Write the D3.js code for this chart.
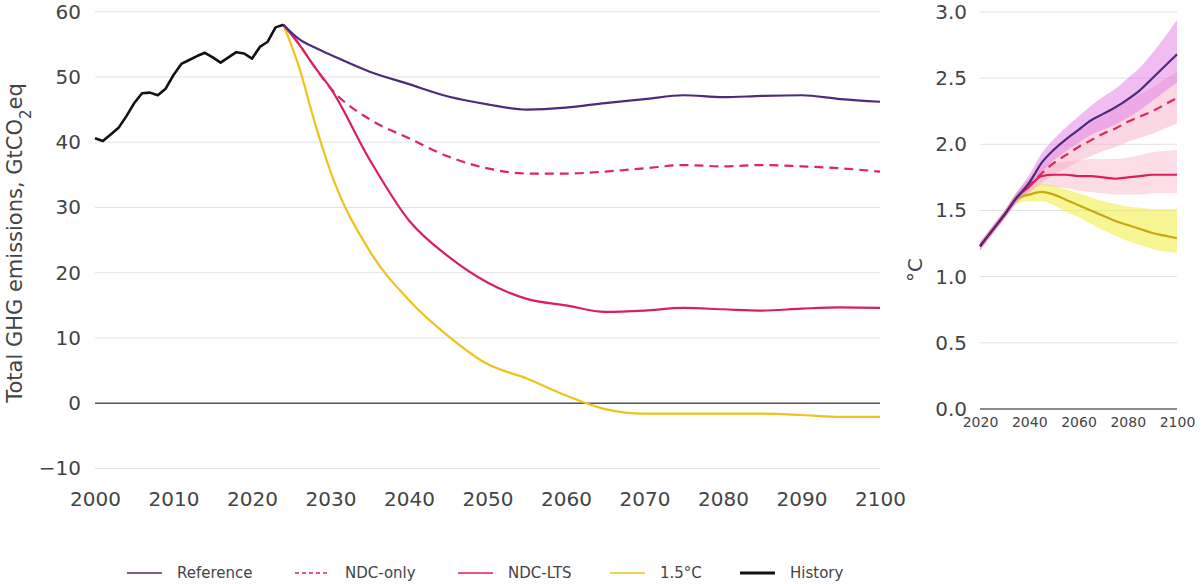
<!DOCTYPE html>
<html>
<head>
<meta charset="utf-8">
<script src="https://cdn.jsdelivr.net/npm/d3@7"></script>
<style>
  html, body { margin: 0; padding: 0; background: #fff; }
  svg text { font-family: "DejaVu Sans", sans-serif; fill: #444; }
</style>
</head>
<body>
<div id="chart"></div>
<script>
// history (GtCO2eq)
var histYears = [2000, 2001, 2002, 2003, 2004, 2005, 2006, 2007, 2008, 2009, 2010, 2011, 2012,
    2013, 2014, 2015, 2016, 2017, 2018, 2019, 2020, 2021, 2022, 2023, 2024];
var histValues = [40.6, 40.2, 41.2, 42.2, 44.0, 46.0, 47.5, 47.6, 47.2, 48.2, 50.3, 52.0, 52.6,
    53.2, 53.7, 53.0, 52.2, 53.0, 53.8, 53.6, 52.8, 54.6, 55.4, 57.6, 58.0];

// scenarios, emissions
var scenYears = [2024, 2026, 2028, 2030, 2035, 2040, 2045, 2050, 2055, 2060, 2065, 2070, 2075, 2080, 2085, 2090, 2095, 2100];
var refEmis = [58.0, 55.8, 54.5, 53.4, 50.8, 48.9, 47.0, 45.8, 45.0, 45.3, 46.0, 46.6, 47.2, 46.9, 47.1, 47.2, 46.6, 46.2];
var ndcEmis = [58.0, 55.0, 51.5, 48.3, 43.5, 40.6, 37.8, 36.0, 35.2, 35.2, 35.5, 36.0, 36.5, 36.3, 36.5, 36.3, 36.0, 35.5];
var ltsEmis = [58.0, 55.0, 51.5, 48.3, 37.3, 28.0, 22.5, 18.5, 16.0, 15.0, 14.0, 14.2, 14.6, 14.4, 14.2, 14.5, 14.7, 14.6];
var p15Emis = [58.0, 51.5, 43.0, 35.5, 23.3, 15.8, 10.3, 6.0, 3.8, 1.2, -0.9, -1.6, -1.6, -1.6, -1.6, -1.8, -2.1, -2.1];

// scenarios, temperature (°C) with ranges
var tempYears = [2020, 2025, 2030, 2035, 2040, 2045, 2050, 2055, 2060, 2065, 2070, 2075, 2080, 2085, 2090, 2095, 2100];
var refTemp = [1.23, 1.35, 1.47, 1.60, 1.71, 1.86, 1.96, 2.04, 2.11, 2.18, 2.23, 2.28, 2.34, 2.41, 2.50, 2.59, 2.68];
var refLow = [1.20, 1.32, 1.44, 1.56, 1.66, 1.79, 1.88, 1.95, 2.01, 2.07, 2.11, 2.15, 2.20, 2.26, 2.33, 2.40, 2.47];
var refHigh = [1.26, 1.38, 1.50, 1.64, 1.77, 1.93, 2.04, 2.13, 2.21, 2.29, 2.36, 2.42, 2.50, 2.58, 2.69, 2.81, 2.94];
var ndcTemp = [1.23, 1.35, 1.47, 1.60, 1.69, 1.78, 1.86, 1.92, 1.98, 2.03, 2.08, 2.12, 2.17, 2.21, 2.25, 2.30, 2.35];
var ndcLow = [1.20, 1.32, 1.44, 1.56, 1.64, 1.71, 1.77, 1.82, 1.87, 1.91, 1.95, 1.98, 2.02, 2.05, 2.08, 2.12, 2.16];
var ndcHigh = [1.26, 1.38, 1.50, 1.64, 1.74, 1.85, 1.95, 2.03, 2.10, 2.16, 2.22, 2.27, 2.33, 2.38, 2.43, 2.49, 2.55];
var ltsTemp = [1.23, 1.35, 1.47, 1.60, 1.68, 1.76, 1.77, 1.77, 1.76, 1.76, 1.75, 1.74, 1.75, 1.76, 1.77, 1.77, 1.77];
var ltsLow = [1.20, 1.32, 1.44, 1.56, 1.63, 1.69, 1.68, 1.67, 1.65, 1.64, 1.63, 1.62, 1.62, 1.62, 1.63, 1.63, 1.63];
var ltsHigh = [1.26, 1.38, 1.50, 1.64, 1.74, 1.83, 1.86, 1.87, 1.88, 1.89, 1.89, 1.89, 1.90, 1.92, 1.94, 1.95, 1.96];
var p15Temp = [1.23, 1.35, 1.47, 1.59, 1.62, 1.64, 1.62, 1.58, 1.54, 1.50, 1.46, 1.42, 1.39, 1.36, 1.33, 1.31, 1.29];
var p15Low = [1.20, 1.32, 1.44, 1.55, 1.57, 1.57, 1.54, 1.49, 1.45, 1.40, 1.35, 1.31, 1.27, 1.24, 1.21, 1.19, 1.18];
var p15High = [1.26, 1.38, 1.50, 1.63, 1.67, 1.70, 1.69, 1.66, 1.63, 1.60, 1.57, 1.55, 1.53, 1.52, 1.51, 1.51, 1.51];

// ticks
var emisTicks = [-10, 0, 10, 20, 30, 40, 50, 60];
var yearTicks = [2000, 2010, 2020, 2030, 2040, 2050, 2060, 2070, 2080, 2090, 2100];
var tempTicks = [0, 0.5, 1.0, 1.5, 2.0, 2.5, 3.0];
var tempYearTicks = [2020, 2040, 2060, 2080, 2100];

var legendNames = ['Reference', 'NDC-only', 'NDC-LTS', '1.5°C', 'History'];

var colors = {
    ref: '#4e2a7e',
    ndc: '#e0245e',
    lts: '#dc1f5a',
    p15: '#f0c21c',
    hist: '#111'
};

var svg = d3.select('#chart').append('svg')
    .attr('width', 1202)
    .attr('height', 584);

function zip(xs, ys) {
    return xs.map(function (x, i) { return [x, ys[i]]; });
}

// ---------- left panel: emissions ----------
var x = d3.scaleLinear().domain([2000, 2100]).range([95, 880]);
var y = d3.scaleLinear().domain([-10, 60]).range([468.5, 11.7]);

var left = svg.append('g');

// gridlines
left.append('g')
    .selectAll('line')
    .data(emisTicks.filter(function (d) { return d !== 0; }))
    .enter()
    .append('line')
    .attr('x1', x(2000)).attr('x2', x(2100))
    .attr('y1', function (d) { return y(d); })
    .attr('y2', function (d) { return y(d); })
    .style('stroke', '#e2e2e2')
    .style('stroke-width', 1);

var yAxisL = left.append('g')
    .attr('transform', 'translate(' + (x(2000) - 10) + ',0)')
    .call(d3.axisLeft(y).tickValues(emisTicks).tickSize(0).tickPadding(4)
        .tickFormat(function (d) { return d < 0 ? '\u2212' + Math.abs(d) : d; }));
yAxisL.select('.domain').remove();
yAxisL.selectAll('text').style('font-size', '20px').style('font-family', '"DejaVu Sans", sans-serif').style('fill', '#444');

var xAxisL = left.append('g')
    .attr('transform', 'translate(0,' + (y(-10) + 20) + ')')
    .call(d3.axisBottom(x).tickValues(yearTicks).tickSize(0).tickFormat(d3.format('d')));
xAxisL.select('.domain').remove();
xAxisL.selectAll('text').style('font-size', '20px').style('font-family', '"DejaVu Sans", sans-serif').style('fill', '#444');

// zero line
left.append('line')
    .attr('x1', x(2000)).attr('x2', x(2100))
    .attr('y1', y(0)).attr('y2', y(0))
    .style('stroke', '#555')
    .style('stroke-width', 1.5);

// y label
left.append('text')
    .attr('transform', 'translate(22,' + 243 + ') rotate(-90)')
    .attr('text-anchor', 'middle')
    .style('font-size', '21px')
    .text('Total GHG emissions, GtCO')
    .append('tspan').attr('baseline-shift', 'sub').style('font-size', '15px').text('2')
    .select(function () { return this.parentNode; })
    .append('tspan').text('eq');

var lineL = d3.line()
    .curve(d3.curveMonotoneX)
    .x(function (d) { return x(d[0]); })
    .y(function (d) { return y(d[1]); });

function addLine(g, line, pts, color, width, dash) {
    g.append('path')
        .datum(pts)
        .attr('d', line)
        .style('fill', 'none')
        .style('stroke', color)
        .style('stroke-width', width)
        .style('stroke-linejoin', 'round')
        .style('stroke-dasharray', dash || null);
}

addLine(left, lineL, zip(scenYears, p15Emis), colors.p15, 2.2);
addLine(left, lineL, zip(scenYears, ltsEmis), colors.lts, 2.2);
addLine(left, lineL, zip(scenYears, ndcEmis), colors.ndc, 2.2, '9,6');
addLine(left, lineL, zip(scenYears, refEmis), colors.ref, 2.2);
addLine(left, d3.line().x(function (d) { return x(d[0]); }).y(function (d) { return y(d[1]); }),
    zip(histYears, histValues), colors.hist, 2.6);

// ---------- right panel: temperature ----------
var x2 = d3.scaleLinear().domain([2020, 2100]).range([980, 1177]);
var y2 = d3.scaleLinear().domain([0, 3]).range([409, 12]);

var right = svg.append('g');

right.append('g')
    .selectAll('line')
    .data(tempTicks.filter(function (d) { return d !== 0; }))
    .enter()
    .append('line')
    .attr('x1', x2(2020)).attr('x2', x2(2100))
    .attr('y1', function (d) { return y2(d); })
    .attr('y2', function (d) { return y2(d); })
    .style('stroke', '#e2e2e2')
    .style('stroke-width', 1);

right.append('line')
    .attr('x1', x2(2020)).attr('x2', x2(2100))
    .attr('y1', y2(0)).attr('y2', y2(0))
    .style('stroke', '#666')
    .style('stroke-width', 1.5);

var yAxisR = right.append('g')
    .attr('transform', 'translate(' + (x2(2020) - 10) + ',0)')
    .call(d3.axisLeft(y2).tickValues(tempTicks).tickSize(0).tickPadding(3).tickFormat(d3.format('.1f')));
yAxisR.select('.domain').remove();
yAxisR.selectAll('text').style('font-size', '20px').style('font-family', '"DejaVu Sans", sans-serif').style('fill', '#444');

var xAxisR = right.append('g')
    .attr('transform', 'translate(0,' + (y2(0) + 5) + ')')
    .call(d3.axisBottom(x2).tickValues(tempYearTicks).tickSize(0).tickFormat(d3.format('d')));
xAxisR.select('.domain').remove();
xAxisR.selectAll('text').style('font-size', '14px').style('font-family', '"DejaVu Sans", sans-serif').style('fill', '#444');

right.append('text')
    .attr('transform', 'translate(922,270) rotate(-90)')
    .attr('text-anchor', 'middle')
    .style('font-size', '20px')
    .text('°C');

var areaR = d3.area()
    .curve(d3.curveMonotoneX)
    .x(function (d) { return x2(d[0]); })
    .y0(function (d) { return y2(d[1]); })
    .y1(function (d) { return y2(d[2]); });

function addBand(lo, hi, color, op) {
    right.append('path')
        .datum(tempYears.map(function (t, i) { return [t, lo[i], hi[i]]; }))
        .attr('d', areaR)
        .style('fill', color)
        .style('fill-opacity', op)
        .style('stroke', 'none');
}

addBand(p15Low, p15High, '#f2ec3a', 0.55);
addBand(ltsLow, ltsHigh, '#f9b3c6', 0.45);
addBand(ndcLow, ndcHigh, '#f7a6c4', 0.45);
addBand(refLow, refHigh, '#e27ae6', 0.5);

var lineR = d3.line()
    .curve(d3.curveMonotoneX)
    .x(function (d) { return x2(d[0]); })
    .y(function (d) { return y2(d[1]); });

addLine(right, lineR, zip(tempYears, p15Temp), '#c9a814', 2.2);
addLine(right, lineR, zip(tempYears, ltsTemp), colors.lts, 2.2);
addLine(right, lineR, zip(tempYears, ndcTemp), colors.ndc, 2.2, '9,6');
addLine(right, lineR, zip(tempYears, refTemp), colors.ref, 2.2);

// ---------- legend ----------
var legendX = [127, 295, 458, 610, 740];
var legendStyle = [
    { c: colors.ref, w: 1.5, dash: null },
    { c: colors.ndc, w: 1.5, dash: '4,3' },
    { c: colors.lts, w: 1.5, dash: null },
    { c: colors.p15, w: 1.5, dash: null },
    { c: colors.hist, w: 3, dash: null }
];
var legend = svg.append('g').attr('transform', 'translate(0,573)');
var items = legend.selectAll('g')
    .data(legendNames)
    .enter()
    .append('g')
    .attr('transform', function (d, i) { return 'translate(' + legendX[i] + ',0)'; });
items.append('line')
    .attr('x1', 0).attr('x2', 35)
    .style('stroke', function (d, i) { return legendStyle[i].c; })
    .style('stroke-width', function (d, i) { return legendStyle[i].w; })
    .style('stroke-dasharray', function (d, i) { return legendStyle[i].dash; });
items.append('text')
    .attr('x', 50)
    .attr('dy', '0.35em')
    .style('font-size', '15px')
    .text(function (d) { return d; });
</script>
</body>
</html>
